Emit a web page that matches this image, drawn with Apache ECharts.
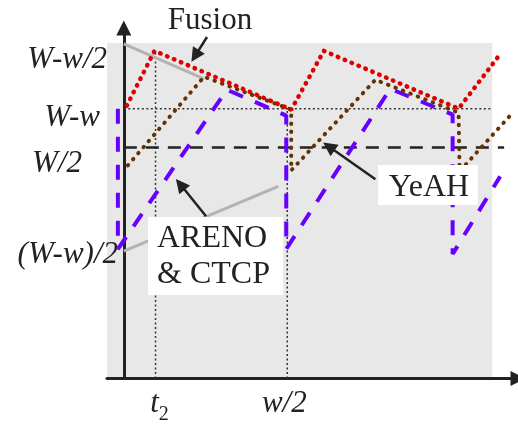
<!DOCTYPE html>
<html>
<head>
<meta charset="utf-8">
<script src="https://cdn.jsdelivr.net/npm/echarts@6.0.0/dist/echarts.min.js"></script>
<style>
  html, body { margin: 0; padding: 0; background: #fff; }
  #chart { width: 518px; height: 425px; }
</style>
</head>
<body>
<div id="chart"></div>
<script>
// time runs along x, window size along y (schematic units)
const fusion = [[3, 274], [31, 329], [169, 270], [202, 329], [338, 271], [381, 327]]
const yeah = [[4, 214], [81, 303], [169, 270], [169, 209], [254, 300], [338, 267], [339, 208], [390, 264]]
const arenoCtcp = [[-6, 271], [-6, 130], [104, 290], [164, 264], [164, 130], [269, 291], [332, 265], [332, 125], [380, 203]]
const envelopeTop = [[0, 336], [81, 301]]
const envelopeLow = [[0, 128], [156, 193]]
const levelWminusw = [[0, 271], [371, 271]]
const levelHalfW = [[0, 232], [384, 232]]
const t2Line = [[32, 0], [32, 327]]
const halfwLine = [[165, 0], [165, 271]]
const shadedArea = [[-17, 0], [372, 337]]
const pointers = [
  [[84, 343], [72, 324]],
  [[254, 200], [207, 233]],
  [[83, 163], [57, 195]],
]

const yTickValues = [320, 262, 216, 124]
const yTickLabels = ['W-w/2', 'W-w', 'W/2', '(W-w)/2']
const xTickValues = [36, 162]
const xTickLabels = ['t2', 'w/2']

const serif = '"Liberation Serif", "Times New Roman", serif'
const ink = '#222'

const chart = echarts.init(document.getElementById('chart'))

const guide = (data, style) => ({
  type: 'line',
  data: data,
  symbol: 'none',
  silent: true,
  lineStyle: style,
})

chart.setOption({
  animation: false,
  backgroundColor: '#fff',
  grid: {left: 107, right: -4, top: 28, bottom: 45},
  xAxis: {
    type: 'value',
    min: -17,
    max: 398,
    z: 3,
    splitLine: {show: false},
    axisTick: {show: false},
    axisLine: {
      onZero: true,
      symbol: ['none', 'triangle'],
      symbolSize: [15, 15],
      lineStyle: {color: ink, width: 3},
    },
    axisLabel: {
      customValues: xTickValues,
      margin: 10,
      color: ink,
      fontFamily: serif,
      fontStyle: 'italic',
      fontSize: 31,
      formatter: (v) => {
        const label = xTickLabels[xTickValues.indexOf(v)]
        if (label === 't2') {
          return '{t|t}{s|2}'
        }
        return label
      },
      rich: {
        t: {fontFamily: serif, fontStyle: 'italic', fontSize: 31, color: ink, padding: [0, 0, 11, 0]},
        s: {fontFamily: serif, fontStyle: 'normal', fontSize: 20, color: ink, padding: [11, 0, 0, 0]},
      },
    },
  },
  yAxis: {
    type: 'value',
    min: 0,
    max: 352,
    z: 3,
    splitLine: {show: false},
    axisTick: {show: false},
    axisLine: {
      show: true,
      onZero: true,
      symbol: ['none', 'triangle'],
      symbolSize: [15, 15],
      lineStyle: {color: ink, width: 3},
    },
    axisLabel: {
      customValues: yTickValues,
      margin: -11,
      formatter: (v) => {
        const i = yTickValues.indexOf(v)
        return '{' + 'abcd'[i] + '|' + yTickLabels[i] + '}'
      },
      rich: {
        a: {fontFamily: serif, fontStyle: 'italic', fontSize: 31, color: ink, padding: [0, 11, 0, 0]},
        b: {fontFamily: serif, fontStyle: 'italic', fontSize: 31, color: ink, padding: [0, 18, 0, 0]},
        c: {fontFamily: serif, fontStyle: 'italic', fontSize: 31, color: ink, padding: [0, 36, 0, 0]},
        d: {fontFamily: serif, fontStyle: 'italic', fontSize: 31, color: ink, padding: [0, 0, 0, 0]},
      },
    },
  },
  series: [
    {
      ...guide(levelWminusw, {color: '#333', width: 1.5, type: [2, 2.5]}),
      markArea: {
        silent: true,
        z: 1,
        label: {show: false},
        itemStyle: {color: '#e8e8e8'},
        data: [[{coord: shadedArea[0]}, {coord: shadedArea[1]}]],
      },
    },
    guide(t2Line, {color: '#333', width: 1.5, type: [2, 2.5]}),
    guide(halfwLine, {color: '#333', width: 1.5, type: [2, 2.5]}),
    guide(levelHalfW, {color: ink, width: 2.5, type: [13, 9]}),
    guide(envelopeTop, {color: '#b3b3b3', width: 3}),
    guide(envelopeLow, {color: '#b3b3b3', width: 3}),
    {
      name: 'ARENO & CTCP',
      type: 'line',
      data: arenoCtcp,
      symbol: 'none',
      lineStyle: {color: '#6600ff', width: 4, type: [15, 13]},
    },
    {
      name: 'YeAH',
      type: 'line',
      data: yeah,
      symbol: 'none',
      lineStyle: {color: '#663300', width: 4, type: [0.5, 7.5], cap: 'round'},
    },
    {
      name: 'Fusion',
      type: 'line',
      data: fusion,
      symbol: 'none',
      lineStyle: {color: '#dd0000', width: 4.5, type: [0.5, 7], cap: 'round'},
      markLine: {
        silent: true,
        symbol: ['none', 'triangle'],
        symbolSize: 14,
        label: {show: false},
        lineStyle: {color: ink, width: 2.5, type: 'solid'},
        data: pointers.map(p => [{coord: p[0]}, {coord: p[1]}]),
      },
    },
  ],
  graphic: [
    {
      type: 'text', x: 210, y: 21, z: 101,
      style: {text: 'Fusion', font: '31px ' + serif, fill: ink, align: 'center', verticalAlign: 'middle'},
    },
    {
      type: 'rect', z: 100,
      shape: {x: 378, y: 165, width: 100, height: 40},
      style: {fill: '#fff'},
    },
    {
      type: 'text', x: 429, y: 188, z: 101,
      style: {text: 'YeAH', font: '32px ' + serif, fill: ink, align: 'center', verticalAlign: 'middle'},
    },
    {
      type: 'rect', z: 100,
      shape: {x: 148, y: 217, width: 135, height: 78},
      style: {fill: '#fff'},
    },
    {
      type: 'text', x: 157, y: 239, z: 101,
      style: {text: 'ARENO', font: '32px ' + serif, fill: ink, align: 'left', verticalAlign: 'middle'},
    },
    {
      type: 'text', x: 157, y: 275, z: 101,
      style: {text: '& CTCP', font: '32px ' + serif, fill: ink, align: 'left', verticalAlign: 'middle'},
    },
  ],
})
</script>
</body>
</html>
